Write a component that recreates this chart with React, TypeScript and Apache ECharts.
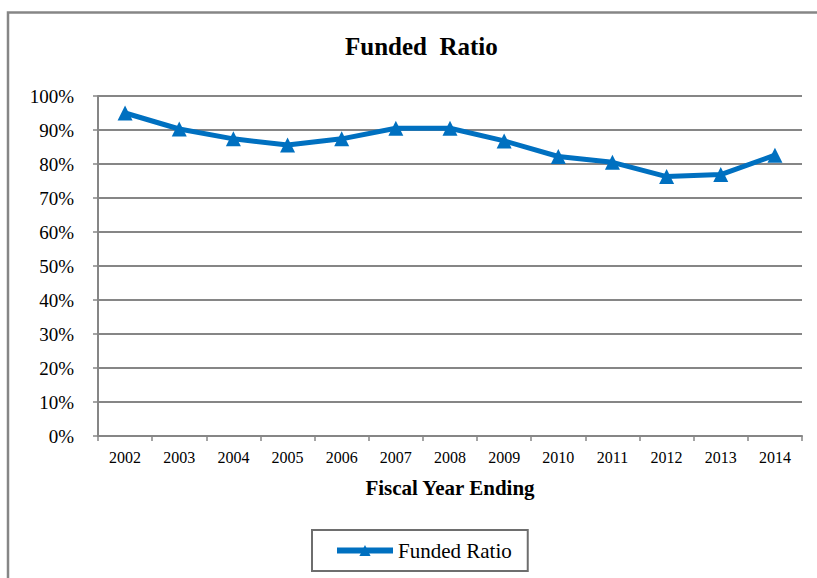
import React, { useEffect, useRef } from "react";
import * as echarts from "echarts";

const years = ["2002", "2003", "2004", "2005", "2006", "2007", "2008", "2009", "2010", "2011", "2012", "2013", "2014"];
const fundedRatio = [95.0, 90.3, 87.4, 85.6, 87.4, 90.5, 90.5, 86.8, 82.2, 80.5, 76.3, 76.9, 82.6];
const seriesName = "Funded Ratio";

const FONT = "Times New Roman";

export default function App() {
  const ref = useRef<HTMLDivElement>(null);
  useEffect(() => {
    const chart = echarts.init(ref.current!, null, { renderer: "svg" });
    chart.setOption({
      animation: false,
      backgroundColor: "#ffffff",
      textStyle: { fontFamily: FONT },
      title: {
        text: "Funded  Ratio",
        left: 345,
        top: 34,
        padding: 0,
        textStyle: { fontFamily: FONT, fontSize: 25, fontWeight: "bold", color: "#000" },
      },
      grid: { left: 98, right: 15, top: 96, bottom: 142, containLabel: false },
      xAxis: {
        type: "category",
        data: years,
        boundaryGap: true,
        name: "Fiscal Year Ending",
        nameLocation: "middle",
        nameGap: 41,
        nameTextStyle: { fontFamily: FONT, fontSize: 21, fontWeight: "bold", color: "#000" },
        axisLine: { lineStyle: { color: "#868686", width: 2 } },
        axisTick: { show: true, alignWithLabel: false, length: 5, lineStyle: { color: "#868686", width: 1.5 } },
        axisLabel: { fontFamily: FONT, fontSize: 16, color: "#000", margin: 13 },
        splitLine: { show: false },
      },
      yAxis: {
        type: "value",
        min: 0,
        max: 100,
        interval: 10,
        axisLine: { show: true, lineStyle: { color: "#868686", width: 2 } },
        axisTick: { show: true, length: 5, lineStyle: { color: "#868686", width: 1.5 } },
        axisLabel: { fontFamily: FONT, fontSize: 19, color: "#000", margin: 24, formatter: "{value}%" },
        splitLine: { show: true, lineStyle: { color: "#868686", width: 2 } },
      },
      legend: {
        data: [seriesName],
        bottom: 7,
        left: 312,
        padding: [10, 16, 10, 22],
        itemWidth: 56,
        itemHeight: 14,
        itemGap: 4,
        borderColor: "#6e6e6e",
        borderWidth: 2,
        lineStyle: { width: 6 },
        textStyle: { fontFamily: FONT, fontSize: 21, color: "#000" },
      },
      series: [
        {
          name: seriesName,
          type: "line",
          data: fundedRatio,
          symbol: "triangle",
          symbolSize: 15,
          lineStyle: { color: "#0070C0", width: 5 },
          itemStyle: { color: "#0070C0" },
        },
      ],
      graphic: [
        {
          type: "polyline",
          shape: { points: [[8, 600], [8, 12.5], [830, 12.5]] },
          style: { stroke: "#868686", lineWidth: 2.5, fill: "none" },
          silent: true,
        },
      ],
    });
    return () => chart.dispose();
  }, []);
  return (
    <div
      ref={ref}
      style={{ position: "absolute", left: 0, top: 0, width: 817, height: 578 }}
    />
  );
}
